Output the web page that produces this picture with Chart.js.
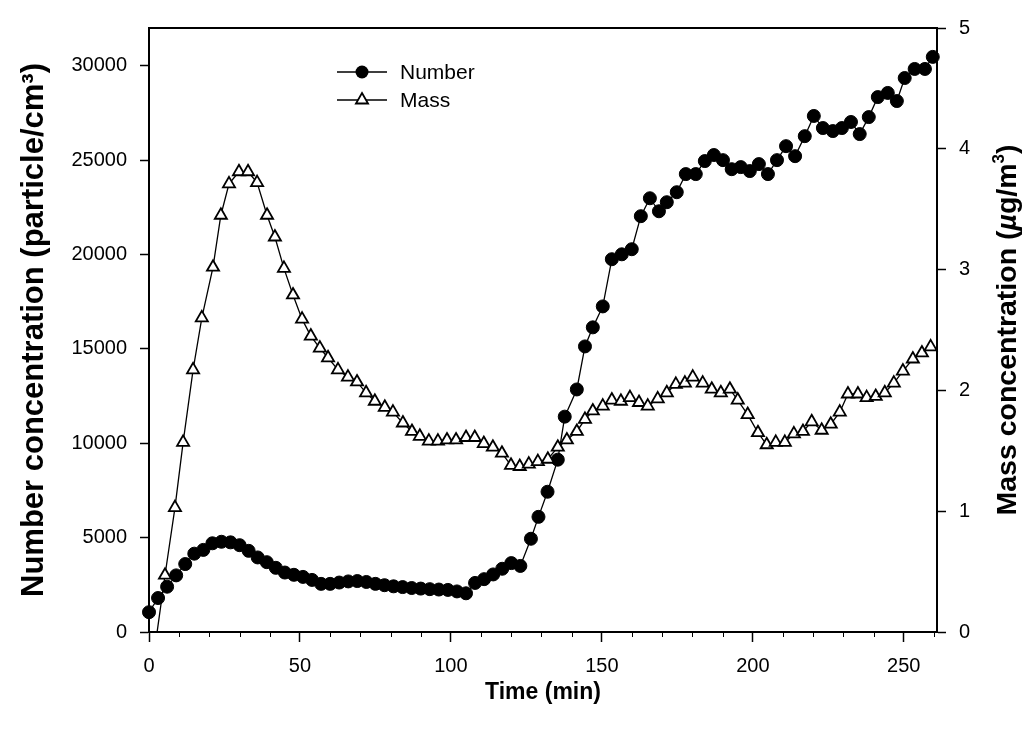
<!DOCTYPE html>
<html>
<head>
<meta charset="utf-8">
<script src="https://cdn.jsdelivr.net/npm/chart.js@4.4.0/dist/chart.umd.min.js"></script>
<style>
  html, body { margin: 0; padding: 0; background: #fff; }
  #wrap { width: 1024px; height: 730px; }
</style>
</head>
<body>
<div id="wrap"><canvas id="chart" width="1024" height="730"></canvas></div>
<script>
// 数据：时间 (min) 与浓度
const numberTime = [0, 3, 6, 9, 12, 15, 18, 21, 24, 27, 30, 33, 36, 39, 42, 45, 48, 51, 54, 57,
    60, 63, 66, 69, 72, 75, 78, 81, 84, 87, 90, 93, 96, 99, 102, 105, 108, 111, 114, 117,
    120, 123, 126.5, 129, 132, 135.4, 137.7, 141.7, 144.4, 147, 150.3, 153.3, 156.6, 159.9,
    162.9, 165.9, 168.9, 171.5, 174.8, 177.8, 181.1, 184.1, 187.1, 190.1, 193, 196, 199,
    202, 205, 208, 211, 214, 217.2, 220.2, 223.2, 226.5, 229.5, 232.5, 235.4, 238.4, 241.4,
    244.7, 247.7, 250.3, 253.6, 257, 259.6];
const numberValue = [1050, 1800, 2400, 3000, 3600, 4150, 4350, 4700, 4780, 4750, 4600, 4300,
    3950, 3700, 3400, 3150, 3030, 2920, 2760, 2550, 2550, 2620, 2680, 2700, 2650, 2550, 2480,
    2420, 2380, 2330, 2300, 2270, 2250, 2230, 2150, 2050, 2600, 2800, 3050, 3350, 3650, 3500,
    4940, 6100, 7430, 9130, 11410, 12850, 15130, 16140, 17250, 19750, 20010, 20280, 22030,
    22980, 22290, 22770, 23300, 24260, 24260, 24950, 25270, 25000, 24520, 24630, 24420, 24790,
    24260, 25000, 25740, 25210, 26270, 27340, 26700, 26540, 26700, 27020, 26380, 27280, 28340,
    28560, 28130, 29350, 29830, 29830, 30470];

const massTime = [2.3, 5.3, 8.6, 11.3, 14.6, 17.5, 21.2, 23.8, 26.5, 29.8, 32.8, 35.8, 39.1,
    41.7, 44.7, 47.7, 50.7, 53.6, 56.6, 59.3, 62.6, 65.9, 68.9, 71.9, 74.8, 78.1, 80.8, 84.1,
    87.1, 89.7, 92.7, 95.7, 98.7, 101.7, 105, 107.9, 110.9, 113.9, 116.9, 119.9, 122.8, 125.8,
    128.8, 132.1, 135.4, 138.4, 141.7, 144.4, 147, 150.3, 153.3, 156.3, 159.3, 162.3, 165.2,
    168.5, 171.5, 174.5, 177.5, 180.1, 183.4, 186.4, 189.4, 192.4, 195, 198.3, 201.7, 204.6,
    207.6, 210.6, 213.6, 216.6, 219.5, 222.8, 225.8, 228.8, 231.5, 234.8, 237.7, 240.7, 243.7,
    246.7, 249.7, 253, 256, 258.9];
const massValue = [-0.07, 0.47, 1.03, 1.57, 2.17, 2.60, 3.02, 3.45, 3.71, 3.81, 3.81, 3.72, 3.45,
    3.27, 3.01, 2.79, 2.59, 2.45, 2.35, 2.27, 2.17, 2.11, 2.07, 1.98, 1.91, 1.86, 1.82, 1.73,
    1.66, 1.62, 1.58, 1.58, 1.59, 1.59, 1.61, 1.61, 1.56, 1.53, 1.48, 1.38, 1.37, 1.39,
    1.41, 1.43, 1.53, 1.59, 1.66, 1.76, 1.83, 1.87, 1.92, 1.91, 1.94, 1.90, 1.87,
    1.93, 1.98, 2.05, 2.06, 2.11, 2.06, 2.01, 1.98, 2.01, 1.92, 1.80, 1.65, 1.55,
    1.57, 1.57, 1.64, 1.66, 1.74, 1.67, 1.72, 1.82, 1.97, 1.97, 1.94, 1.95, 1.98,
    2.06, 2.16, 2.26, 2.31, 2.36];

// 刻度
const xTicks = [0, 50, 100, 150, 200, 250];
const xMinorTicks = [10, 20, 30, 40, 60, 70, 80, 90, 110, 120, 130, 140, 160, 170, 180, 190,
    210, 220, 230, 240, 260];
const numberTicks = [0, 5000, 10000, 15000, 20000, 25000, 30000];
const massTicks = [0, 1, 2, 3, 4, 5];

const FONT = '"Liberation Sans", Arial, sans-serif';

function toPoints(xs, ys) {
    return xs.map((x, i) => ({ x: x, y: ys[i] }));
}

function fixedTicks(list) {
    return function (scale) {
        scale.ticks = list.map(v => ({ value: v }));
    };
}

// 外框、次刻度、图例和右侧标题
const decorPlugin = {
    id: 'decor',
    beforeDatasetsDraw(chart) {
        const { ctx, chartArea: a } = chart;
        ctx.save();
        ctx.strokeStyle = '#000';
        ctx.lineWidth = 2;
        ctx.strokeRect(a.left, a.top, a.right - a.left, a.bottom - a.top);
        // x 轴次刻度
        ctx.lineWidth = 1;
        const xs = chart.scales.x;
        xMinorTicks.forEach(t => {
            const px = Math.round(xs.getPixelForValue(t)) + 0.5;
            ctx.beginPath();
            ctx.moveTo(px, a.bottom);
            ctx.lineTo(px, a.bottom + 5);
            ctx.stroke();
        });
        ctx.restore();
    },
    afterDraw(chart) {
        const { ctx, chartArea: a } = chart;
        ctx.save();
        // 图例
        const lx0 = a.left + 188, lx1 = a.left + 238, mx = a.left + 213;
        const y1 = a.top + 44, y2 = a.top + 72;
        ctx.strokeStyle = '#000';
        ctx.lineWidth = 1.5;
        ctx.beginPath();
        ctx.moveTo(lx0, y1); ctx.lineTo(lx1, y1);
        ctx.moveTo(lx0, y2); ctx.lineTo(lx1, y2);
        ctx.stroke();
        ctx.fillStyle = '#000';
        ctx.beginPath();
        ctx.arc(mx, y1, 6.5, 0, Math.PI * 2);
        ctx.fill();
        const r = 7;
        ctx.beginPath();
        ctx.moveTo(mx, y2 - r);
        ctx.lineTo(mx + r * Math.sin(Math.PI * 2 / 3), y2 + r / 2);
        ctx.lineTo(mx - r * Math.sin(Math.PI * 2 / 3), y2 + r / 2);
        ctx.closePath();
        ctx.fillStyle = '#fff';
        ctx.fill();
        ctx.lineWidth = 1.8;
        ctx.stroke();
        ctx.fillStyle = '#000';
        ctx.font = '21px ' + FONT;
        ctx.textBaseline = 'middle';
        ctx.textAlign = 'left';
        ctx.fillText('Number', a.left + 251, y1 + 1);
        ctx.fillText('Mass', a.left + 251, y2 + 1);

        // 右侧标题 (从下往上)
        const parts = [
            { t: 'Mass concentration (', f: 'bold 28.5px ' + FONT, dy: 0 },
            { t: 'µ', f: 'italic bold 28.5px ' + FONT, dy: 0 },
            { t: 'g/m', f: 'bold 28.5px ' + FONT, dy: 0 },
            { t: '3', f: 'bold 17px ' + FONT, dy: -9 },
            { t: ')', f: 'bold 28.5px ' + FONT, dy: 0 }
        ];
        let total = 0;
        parts.forEach(p => { ctx.font = p.f; p.w = ctx.measureText(p.t).width; total += p.w; });
        ctx.translate(1008, (a.top + a.bottom) / 2);
        ctx.rotate(-Math.PI / 2);
        let cx = -total / 2;
        parts.forEach(p => {
            ctx.font = p.f;
            ctx.fillText(p.t, cx, p.dy);
            cx += p.w;
        });
        ctx.restore();
    }
};

const ctx = document.getElementById('chart').getContext('2d');
new Chart(ctx, {
    type: 'line',
    data: {
        datasets: [
            {
                label: 'Mass',
                data: toPoints(massTime, massValue),
                yAxisID: 'y1',
                order: 0,
                borderColor: '#000',
                borderWidth: 1.3,
                pointStyle: 'triangle',
                pointRadius: 7,
                pointBorderWidth: 1.8,
                pointBackgroundColor: '#fff',
                pointBorderColor: '#000',
                tension: 0,
                clip: { left: false, top: false, right: false, bottom: 0 }
            },
            {
                label: 'Number',
                data: toPoints(numberTime, numberValue),
                yAxisID: 'y',
                order: 1,
                borderColor: '#000',
                borderWidth: 1.3,
                pointStyle: 'circle',
                pointRadius: 6.5,
                pointBorderWidth: 1,
                pointBackgroundColor: '#000',
                pointBorderColor: '#000',
                tension: 0,
                clip: false
            }
        ]
    },
    options: {
        responsive: false,
        animation: false,
        events: [],
        layout: { padding: { top: 28, left: 0, right: 0, bottom: 0 } },
        plugins: {
            legend: { display: false },
            tooltip: { enabled: false }
        },
        scales: {
            x: {
                type: 'linear',
                position: 'bottom',
                min: 0,
                max: 261,
                afterBuildTicks: fixedTicks(xTicks),
                afterFit(scale) { scale.height = 98; },
                ticks: {
                    color: '#000',
                    padding: 12,
                    maxRotation: 0,
                    autoSkip: false,
                    font: { family: FONT, size: 20 },
                    callback: v => String(v)
                },
                grid: { drawOnChartArea: false, tickLength: 10, tickColor: '#000', tickWidth: 1.5 },
                border: { color: '#000', width: 2 },
                title: {
                    display: true,
                    text: 'Time (min)',
                    color: '#000',
                    font: { family: FONT, size: 23, weight: 'bold' },
                    padding: { top: 0, bottom: 24 }
                }
            },
            y: {
                type: 'linear',
                position: 'left',
                min: 0,
                max: 32000,
                afterBuildTicks: fixedTicks(numberTicks),
                afterFit(scale) { scale.width = 149; },
                ticks: {
                    color: '#000',
                    padding: 13,
                    autoSkip: false,
                    font: { family: FONT, size: 20 },
                    callback: v => String(v)
                },
                grid: { drawOnChartArea: false, tickLength: 9, tickColor: '#000', tickWidth: 1.5 },
                border: { color: '#000', width: 2 },
                title: {
                    display: true,
                    text: 'Number concentration (particle/cm³)',
                    color: '#000',
                    font: { family: FONT, size: 31, weight: 'bold' },
                    padding: { top: 16, bottom: 0 }
                }
            },
            y1: {
                type: 'linear',
                position: 'right',
                min: 0,
                max: 5,
                afterBuildTicks: fixedTicks(massTicks),
                afterFit(scale) { scale.width = 87; },
                ticks: {
                    color: '#000',
                    padding: 13,
                    autoSkip: false,
                    font: { family: FONT, size: 20 },
                    callback: v => String(v)
                },
                grid: { drawOnChartArea: false, tickLength: 9, tickColor: '#000', tickWidth: 1.5 },
                border: { color: '#000', width: 2 }
            }
        }
    },
    plugins: [decorPlugin]
});
</script>
</body>
</html>
